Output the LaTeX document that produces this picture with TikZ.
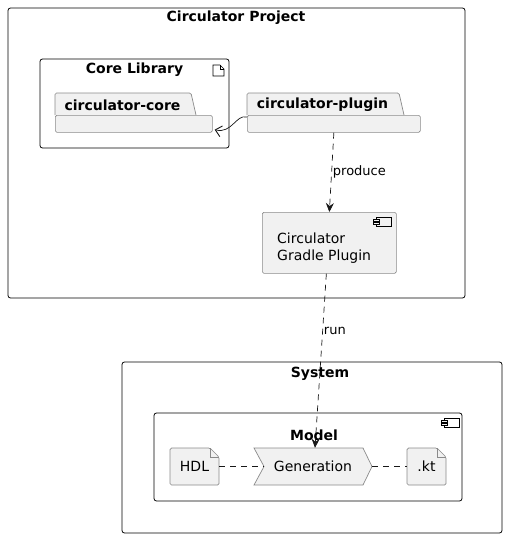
\documentclass[tikz,border=0pt]{standalone}
\usepackage{fontspec}
\setmainfont{DejaVu Sans}
\usetikzlibrary{arrows.meta}
\definecolor{boxfill}{HTML}{F1F1F1}
\definecolor{boxline}{HTML}{8A8A8A}
\definecolor{edgeline}{HTML}{181818}
\begin{document}
\begin{tikzpicture}[x=1pt,y=-1pt, font=\fontsize{14}{17}\selectfont,
  frame/.style={draw=black, line width=0.8pt, rounded corners=2.5pt},
  box/.style={draw=boxline, fill=boxfill, line width=0.7pt, rounded corners=1.5pt},
  ttl/.style={font=\bfseries\fontsize{14}{17}\selectfont, inner sep=0pt},
  txt/.style={inner sep=0pt},
  lbl/.style={font=\fontsize{13}{15}\selectfont, anchor=west, inner sep=1pt},
  dep/.style={draw=edgeline, line width=0.7pt, dash pattern=on 6pt off 5pt},
  tip/.style={-{Stealth[length=9pt,width=8pt,inset=3pt]}},
  opentip/.style={-{Straight Barb[length=6pt,width=11pt,line width=0.9pt]}}]

\useasboundingbox (0,0) rectangle (507,538);

% outer frames
\draw[frame] (8,8) rectangle (465,298);
\node[ttl] (projttl) at (236,18) {Circulator Project};
\draw[frame] (40,59) rectangle (229,148);
\node[ttl] (corettl) at (134.5,70) {Core Library};
\draw[frame] (122,362) rectangle (502,533);
\node[ttl] (systtl) at (320,374) {System};
\draw[frame] (154,413) rectangle (462,501);
\node[ttl] (modelttl) at (314,435) {Model};

% artifact icon
\draw[line width=0.6pt] (213,65) -- (220,65) -- (224,69) -- (224,76) -- (213,76) -- cycle;
\draw[line width=0.6pt] (220,65) -- (220,69) -- (224,69);

% packages
\draw[box] (55,115) -- (55,93) -- (191,93) -- (196,115);
\node[box, minimum width=157pt, minimum height=17pt, anchor=north west] (corebody) at (55,115) {};
\node[ttl] (corename) at (122.5,105) {circulator-core};
\draw[box] (247,115) -- (247,93) -- (399,93) -- (404,115);
\node[box, minimum width=173pt, minimum height=17pt, anchor=north west] (plugbody) at (247,115) {};
\node[ttl] (plugname) at (322.5,105) {circulator-plugin};

% component
\node[box, minimum width=134pt, minimum height=61pt, anchor=north west] (gradle) at (262,212) {};
\node[txt, align=left, anchor=west] (gradletxt) at (277,248) {Circulator\\Gradle Plugin};

% component icons
\foreach \ix/\iy in {376/217, 444/418}{
  \draw[line width=0.6pt] (\ix,\iy) rectangle (\ix+15,\iy+9);
  \draw[line width=0.6pt, fill=boxfill] (\ix-3,\iy+2) rectangle (\ix+3,\iy+4);
  \draw[line width=0.6pt, fill=boxfill] (\ix-3,\iy+5.5) rectangle (\ix+3,\iy+7.5);
}

% files and generation step
\draw[box] (170,448) -- (210,448) -- (219,457) -- (219,485) -- (170,485) -- cycle;
\draw[boxline, line width=0.7pt] (210,448) -- (210,457) -- (219,457);
\node[txt, minimum width=49pt, minimum height=37pt] (hdl) at (194.5,466.5) {HDL};
\draw[box, rounded corners=0pt] (254,448) -- (363,448) -- (372,466.5) -- (363,485) -- (254,485) -- (264,466.5) -- cycle;
\node[txt, minimum width=118pt, minimum height=37pt] (gen) at (313,466.5) {Generation};
\draw[box] (407,448) -- (437,448) -- (446,457) -- (446,485) -- (407,485) -- cycle;
\draw[boxline, line width=0.7pt] (437,448) -- (437,457) -- (446,457);
\node[txt, minimum width=39pt, minimum height=37pt] (kt) at (426.5,466.5) {.kt};

% connectors
\draw[edgeline, line width=0.7pt, opentip] ([yshift=-2pt]plugbody.north west) .. controls (236,114) and (232,134) .. ([xshift=2pt,yshift=3pt]corebody.south east);
\draw[dep, tip] (plugbody.south) -- node[lbl, pos=0.5] {produce} (gradle.north);
\draw[dep, tip] ([xshift=-3pt]gradle.south) -- node[lbl, pos=0.33] {run} ([xshift=2pt]gen.north);
\draw[dep] (hdl.east) -- ([xshift=10pt]gen.west);
\draw[dep] (gen.east) -- (kt.west);
\end{tikzpicture}
\end{document}
